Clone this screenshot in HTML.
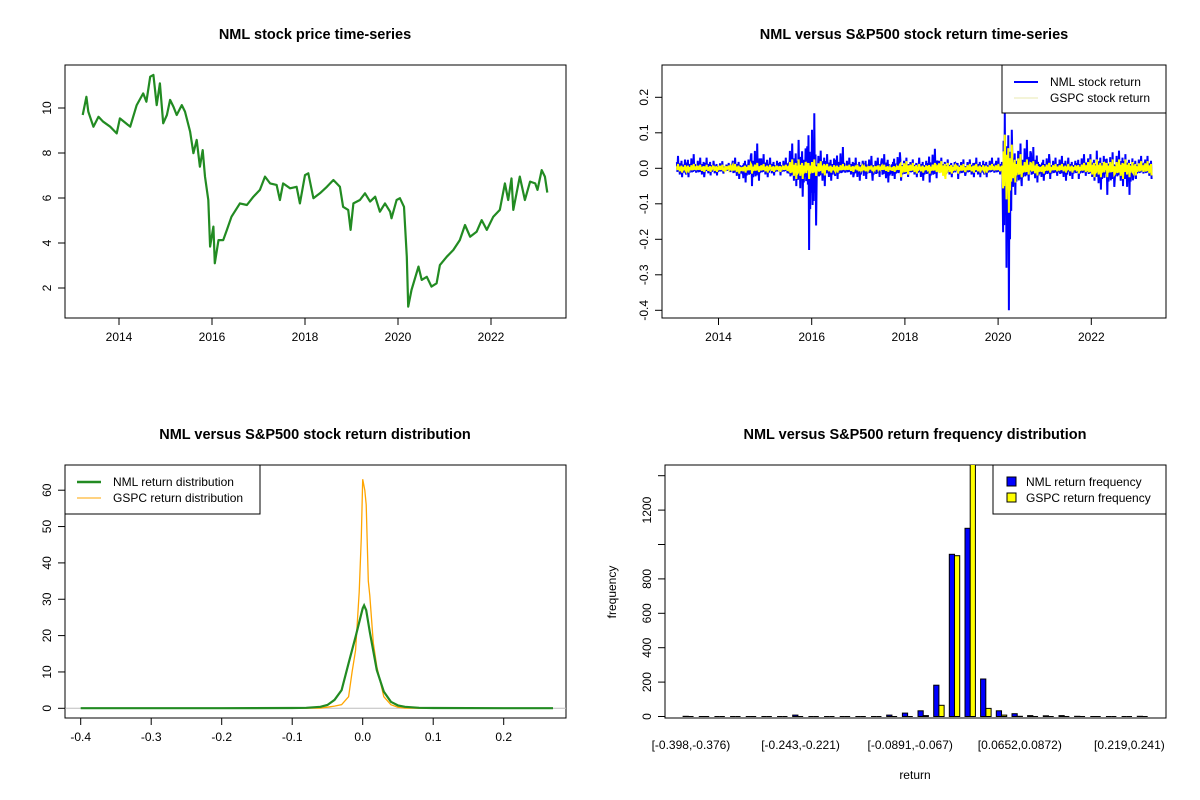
<!DOCTYPE html>
<html><head><meta charset="utf-8"><style>
html,body{margin:0;padding:0;background:#fff}
svg{display:block;font-family:"Liberation Sans",Arial,sans-serif}
</style></head><body>
<svg id="c" width="1200" height="800" viewBox="0 0 1200 800">
<rect width="1200" height="800" fill="#fff"/>
<g id="root"></g>
</svg>
<script>
// ---- Panel 1 data: NML price ----
const priceDates=[2013.22,2013.30,2013.34,2013.45,2013.56,2013.66,2013.81,2013.95,2014.02,2014.24,2014.38,2014.52,2014.59,2014.67,2014.74,2014.81,2014.88,2014.95,2015.03,2015.10,2015.17,2015.24,2015.35,2015.42,2015.53,2015.60,2015.67,2015.74,2015.80,2015.85,2015.92,2015.96,2016.03,2016.06,2016.14,2016.24,2016.32,2016.42,2016.60,2016.75,2016.89,2017.03,2017.14,2017.25,2017.39,2017.46,2017.53,2017.68,2017.82,2017.89,2018.00,2018.07,2018.18,2018.32,2018.47,2018.61,2018.75,2018.82,2018.93,2018.98,2019.04,2019.18,2019.29,2019.40,2019.51,2019.61,2019.72,2019.83,2019.86,2019.97,2020.04,2020.13,2020.19,2020.22,2020.29,2020.44,2020.51,2020.62,2020.72,2020.83,2020.90,2021.05,2021.19,2021.33,2021.44,2021.55,2021.69,2021.80,2021.91,2022.05,2022.19,2022.30,2022.37,2022.44,2022.48,2022.62,2022.73,2022.84,2022.95,2023.00,2023.09,2023.16,2023.21];
const priceValues=[9.69,10.50,9.84,9.17,9.61,9.39,9.17,8.87,9.54,9.17,10.13,10.65,10.28,11.39,11.47,10.13,11.10,9.32,9.69,10.36,10.06,9.69,10.13,9.84,8.95,7.99,8.58,7.39,8.13,6.95,5.91,3.84,4.73,3.10,4.13,4.13,4.58,5.17,5.76,5.69,6.06,6.36,6.95,6.65,6.58,5.91,6.65,6.43,6.50,5.76,7.02,7.10,5.99,6.21,6.50,6.80,6.50,5.61,5.47,4.58,5.76,5.91,6.21,5.84,6.06,5.39,5.76,5.39,5.10,5.91,5.99,5.61,3.39,1.17,1.91,2.95,2.36,2.50,2.06,2.21,3.02,3.39,3.69,4.13,4.80,4.28,4.50,5.02,4.58,5.17,5.47,6.65,5.91,6.87,5.47,6.95,5.91,6.73,6.65,6.36,7.24,6.95,6.24];
const p1YTicks=[2,4,6,8,10];
const yearTicks=[2014,2016,2018,2020,2022];
// ---- Panel 2 data: return envelopes per 0.2-year bin ----
const retStart=2013.2, retStep=0.2;
const nmlHi=[0.035,0.04,0.03,0.03,0.02,0.015,0.03,0.035,0.07,0.04,0.03,0.03,0.07,0.08,0.155,0.05,0.04,0.06,0.03,0.03,0.035,0.03,0.04,0.045,0.03,0.025,0.03,0.055,0.03,0.025,0.025,0.025,0.03,0.03,0.03,0.155,0.07,0.08,0.06,0.04,0.03,0.035,0.03,0.04,0.04,0.05,0.045,0.05,0.04,0.035,0.035];
const nmlLo=[-0.025,-0.025,-0.025,-0.02,-0.02,-0.015,-0.03,-0.04,-0.05,-0.025,-0.02,-0.02,-0.05,-0.08,-0.23,-0.05,-0.035,-0.03,-0.025,-0.035,-0.03,-0.035,-0.04,-0.03,-0.035,-0.025,-0.035,-0.04,-0.025,-0.025,-0.03,-0.025,-0.025,-0.025,-0.025,-0.40,-0.075,-0.05,-0.04,-0.035,-0.03,-0.035,-0.03,-0.03,-0.035,-0.06,-0.075,-0.05,-0.075,-0.03,-0.03];
const gspcHi=[0.012,0.012,0.01,0.01,0.01,0.008,0.012,0.012,0.015,0.012,0.01,0.01,0.025,0.025,0.025,0.02,0.012,0.012,0.01,0.008,0.008,0.008,0.01,0.01,0.02,0.015,0.012,0.015,0.02,0.015,0.012,0.012,0.012,0.012,0.012,0.095,0.04,0.025,0.02,0.015,0.012,0.012,0.012,0.015,0.025,0.025,0.025,0.025,0.025,0.02,0.02];
const gspcLo=[-0.012,-0.012,-0.01,-0.01,-0.01,-0.008,-0.015,-0.012,-0.015,-0.012,-0.01,-0.01,-0.03,-0.03,-0.03,-0.02,-0.012,-0.012,-0.01,-0.008,-0.008,-0.008,-0.01,-0.01,-0.025,-0.015,-0.012,-0.015,-0.03,-0.015,-0.015,-0.012,-0.012,-0.012,-0.012,-0.125,-0.04,-0.025,-0.02,-0.015,-0.012,-0.012,-0.012,-0.015,-0.025,-0.025,-0.025,-0.03,-0.025,-0.02,-0.02];
const p2YTicks=[-0.4,-0.3,-0.2,-0.1,0.0,0.1,0.2];
// ---- Panel 3 data: densities ----
const nmlDensX=[-0.40,-0.2,-0.1,-0.08,-0.06,-0.05,-0.04,-0.03,-0.02,-0.01,0.0,0.002,0.005,0.01,0.02,0.03,0.04,0.05,0.06,0.08,0.1,0.2,0.27];
const nmlDensY=[0.02,0.03,0.08,0.15,0.4,0.9,2.3,5.0,12.4,19.7,27.5,28.3,27.0,21.0,10.5,4.6,1.8,0.8,0.4,0.15,0.08,0.03,0.02];
const gspcDensX=[-0.13,-0.06,-0.05,-0.04,-0.03,-0.02,-0.015,-0.01,-0.005,-0.002,0.0,0.003,0.005,0.008,0.01,0.015,0.02,0.03,0.04,0.05,0.06,0.1];
const gspcDensY=[0,0.05,0.3,0.6,1.0,3.2,10,16,32,47,63,60,56,35,31,18,11.5,3.2,1.0,0.3,0.05,0];
const p3XTicks=[-0.4,-0.3,-0.2,-0.1,0.0,0.1,0.2];
const p3YTicks=[0,10,20,30,40,50,60];
// ---- Panel 4 data: histogram (30 bins) ----
const nmlFreq=[1,0,0,0,0,0,0,8,0,0,0,0,0,8,20,33,182,943,1094,218,33,16,5,4,5,1,0,0,0,1];
const gspcFreq=[0,0,0,0,0,0,0,0,0,0,0,0,0,0,0,5,65,935,1700,47,8,1,0,0,0,0,0,0,0,0];
const binLabels={0:"[-0.398,-0.376)",7:"[-0.243,-0.221)",14:"[-0.0891,-0.067)",21:"[0.0652,0.0872)",28:"[0.219,0.241)"};
const p4YTicks=[0,200,400,600,800,1000,1200,1400];
const p4YLabels=[0,200,400,600,800,1200];

const NS="http://www.w3.org/2000/svg";
const root=document.getElementById('root');
function mk(tag,attrs,parent,text){const e=document.createElementNS(NS,tag);for(const k in attrs)e.setAttribute(k,attrs[k]);if(text!==undefined)e.textContent=text;(parent||root).appendChild(e);return e;}

function frame(x0,y0,x1,y1,title,tx,name){
  const g=mk('g',{});
  
  
  const r=mk('rect',{x:x0,y:y0,width:x1-x0,height:y1-y0,fill:'none',stroke:'#000','stroke-width':1},g);
  
  
  const t=mk('text',{x:tx,y:y0-26,'text-anchor':'middle','font-size':'14.5','font-weight':'bold'},g,title);
  
  
  return g;
}
function xAxis(g,ticks,fx,yb,fmt){
  const a=mk('g',{},g);
  
  
  mk('line',{x1:fx(ticks[0]),x2:fx(ticks[ticks.length-1]),y1:yb,y2:yb,stroke:'#000'},a);
  ticks.forEach(t=>{const x=fx(t);mk('line',{x1:x,x2:x,y1:yb,y2:yb+7,stroke:'#000'},a);
    const l=mk('text',{x:x,y:yb+23,'text-anchor':'middle','font-size':'12'},a,fmt?fmt(t):String(t));
    
    });
}
function yAxis(g,ticks,fy,xl,labels,fmt){
  const a=mk('g',{},g);
  
  
  mk('line',{x1:xl,x2:xl,y1:fy(ticks[0]),y2:fy(ticks[ticks.length-1]),stroke:'#000'},a);
  ticks.forEach(t=>{const y=fy(t);mk('line',{x1:xl,x2:xl-7,y1:y,y2:y,stroke:'#000'},a);
    if(labels && labels.indexOf(t)<0) return;
    const l=mk('text',{x:0,y:0,'text-anchor':'middle','font-size':'12',transform:`translate(${xl-14},${y}) rotate(-90)`},a,fmt?fmt(t):String(t));
    
    });
}
function legend(g,x0,y0,x1,y1,items){
  const lg=mk('g',{},g);
  
  
  mk('rect',{x:x0,y:y0,width:x1-x0,height:y1-y0,fill:'#fff',stroke:'#000'},lg);
  items.forEach((it,i)=>{const y=y0+17+i*16;
    const e=mk('g',{},lg);
    
    
    if(it.box){mk('rect',{x:x0+14,y:y-5,width:9,height:9,fill:it.c,stroke:'#000'},e);}
    else mk('line',{x1:x0+12,x2:x0+36,y1:y,y2:y,stroke:it.c,'stroke-width':it.w},e);
    mk('text',{x:x0+(it.box?33:48),y:y+4,'font-size':'12'},e,it.t);});
}

// ---- Panel 1 ----
(function(){
  const fx=v=>119+(v-2014)*46.5, fy=v=>108+(10-v)*22.5;
  const g=frame(65,65,566,318,'NML stock price time-series',315,'price-panel');
  const pts=priceDates.map((d,i)=>fx(d).toFixed(1)+','+fy(priceValues[i]).toFixed(1)).join(' ');
  const l=mk('polyline',{points:pts,fill:'none',stroke:'#228B22','stroke-width':2.2,'stroke-linejoin':'round'},g);
  
  
  xAxis(g,yearTicks,fx,318);
  yAxis(g,p1YTicks,fy,65);
})();

// ---- Panel 2 ----
(function(){
  const fx=v=>718.5+(v-2014)*46.6, fy=v=>168.3-v*355;
  const g=frame(662,65,1166,318,'NML versus S&P500 stock return time-series',914,'return-panel');
  // intra-bin drawing pattern (shape only; extremes come from the data arrays)
  const shape=[0.5,-0.4,1,-0.3,0.25,-0.7,0.4,-0.2,0.6,-1,0.3,-0.5,0.2,-0.3,0.7,-0.45];
  function zig(hi,lo,color,w,name){
    const pts=[];const n=shape.length;
    hi.forEach((h,k)=>{const c=retStart+k*retStep;
      for(let j=0;j<n;j++){const d=c-retStep/2+retStep*(j+0.5)/n;const m=shape[(j+k*5)%n];
        const v=m>0?h*m:lo[k]*(-m);
        pts.push(fx(d).toFixed(1)+','+fy(v).toFixed(1));}});
    const p=mk('polyline',{points:pts.join(' '),fill:'none',stroke:color,'stroke-width':w},g);
    
    
  }
  zig(nmlHi,nmlLo,'#0000ff',2,'nml-return-line');
  zig(gspcHi,gspcLo,'#ffff00',2,'gspc-return-line');
  xAxis(g,yearTicks,fx,318);
  yAxis(g,p2YTicks,fy,662,null,t=>t.toFixed(1));
  legend(g,1002,65,1166,113,[{c:'#0000ff',w:2,t:'NML stock return'},{c:'#e8e8b0',w:1,t:'GSPC stock return'}]);
})();

// ---- Panel 3 ----
(function(){
  const fx=v=>362.7+v*705, fy=v=>708.3-v*3.635;
  const g=frame(65,465,566,718,'NML versus S&P500 stock return distribution',315,'density-panel');
  mk('line',{x1:65,x2:566,y1:fy(0),y2:fy(0),stroke:'#bebebe'},g);
  const pn=nmlDensX.map((x,i)=>fx(x).toFixed(1)+','+fy(nmlDensY[i]).toFixed(1)).join(' ');
  const pg=gspcDensX.map((x,i)=>fx(x).toFixed(1)+','+fy(gspcDensY[i]).toFixed(1)).join(' ');
  const a=mk('polyline',{points:pg,fill:'none',stroke:'#ffa500','stroke-width':1.3},g);
  
  
  const b=mk('polyline',{points:pn,fill:'none',stroke:'#228B22','stroke-width':2.2},g);
  
  
  xAxis(g,p3XTicks,fx,718,t=>t===0?'0.0':String(t));
  yAxis(g,p3YTicks,fy,65);
  legend(g,65,465,260,514,[{c:'#228B22',w:2.5,t:'NML return distribution'},{c:'#ffa500',w:1,t:'GSPC return distribution'}]);
})();

// ---- Panel 4 ----
(function(){
  const u=5.22, x0=680.5;
  const fy=v=>716.5-v*0.172;
  const g=frame(665,465,1166,718,'NML versus S&P500 return frequency distribution',915,'histogram-panel');
  const cp=mk('clipPath',{id:'cp4'},g); mk('rect',{x:665,y:465,width:501,height:253},cp);
  const bars=mk('g',{'clip-path':'url(#cp4)'},g);
  nmlFreq.forEach((v,i)=>{
    [[v,'#0000ff',0],[gspcFreq[i],'#ffff00',1]].forEach(([c,col,o])=>{
      const xl=x0+(1+3*i+o-0.5)*u;
      if(c>0){const r=mk('rect',{x:xl.toFixed(1),y:fy(c).toFixed(1),width:u.toFixed(2),height:(c*0.172).toFixed(1),fill:col,stroke:'#000','stroke-width':1},bars);
        
        }
      else mk('line',{x1:xl,x2:xl+u,y1:fy(0),y2:fy(0),stroke:'#000'},bars);
    });
    if(binLabels[i]!==undefined){const t=mk('text',{x:x0+(2+3*i)*u,y:749,'text-anchor':'middle','font-size':'12'},g,binLabels[i]);
      
      }
  });
  yAxis(g,p4YTicks,fy,665,p4YLabels);
  const xt=mk('text',{x:915,y:779,'text-anchor':'middle','font-size':'12'},g,'return');
  
  
  const yt=mk('text',{x:0,y:0,'text-anchor':'middle','font-size':'12',transform:'translate(616,592) rotate(-90)'},g,'frequency');
  
  
  legend(g,993,465,1166,514,[{c:'#0000ff',box:true,t:'NML return frequency'},{c:'#ffff00',box:true,t:'GSPC return frequency'}]);
})();
</script>
</body></html>
